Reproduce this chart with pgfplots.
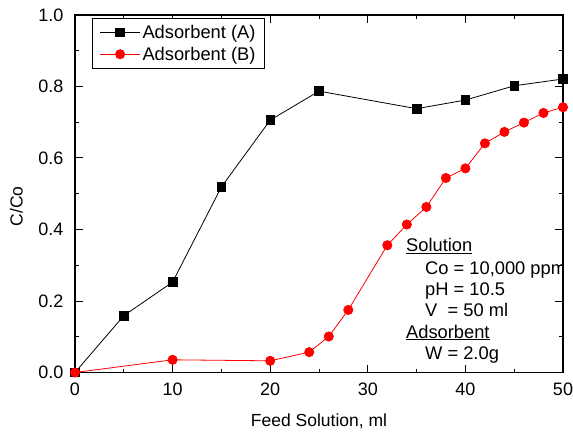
\documentclass[border=0pt]{standalone}
\usepackage{fontspec}
\setmainfont{Liberation Sans}
\usepackage{pgfplots}
\pgfplotsset{compat=1.18}
\begin{document}
\begin{tikzpicture}
\begin{axis}[
  scale only axis, width=488pt, height=357.5pt,
  xmin=0, xmax=50, ymin=0, ymax=1,
  xtick={0,10,...,50}, minor x tick num=1,
  ytick={0,0.2,...,1.0}, minor y tick num=1,
  tick align=inside,
  major tick length=8pt, minor tick length=4pt,
  axis line style={line width=1.1pt},
  tick style={line width=1pt, black},
  /pgf/number format/assume math mode=true,
  tick label style={font=\fontsize{18}{20}\selectfont},
  xticklabel style={anchor=base, inner sep=0pt, yshift=-22.7pt},
  yticklabel style={anchor=east, inner sep=0pt, xshift=-11.5pt,
    /pgf/number format/fixed, /pgf/number format/fixed zerofill, /pgf/number format/precision=1},
  xlabel={Feed Solution, ml},
  xlabel style={font=\fontsize{17.5}{20}\selectfont, at={(rel axis cs:0.5,0)}, anchor=base, inner sep=0pt, yshift=-53.5pt},
  ylabel={C/Co},
  ylabel style={font=\fontsize{17.5}{20}\selectfont, at={(rel axis cs:0,0.465)}, anchor=south, inner sep=0pt, yshift=52pt},
  legend style={at={(rel axis cs:0.0355,0.991)}, anchor=north west, draw=black, line width=0.8pt,
    font=\fontsize{18.3}{20}\selectfont, inner xsep=7pt, inner ysep=4.5pt, row sep=3pt,
    cells={anchor=west}},
  legend image code/.code={\draw[mark repeat=2,mark phase=2] plot coordinates {(0pt,0pt) (20pt,0pt) (40pt,0pt)};},
]
\addplot[black, line width=0.8pt, mark=square*, mark size=4.3pt, mark options={solid}] coordinates {
  (0,0) (5,0.159) (10,0.253) (15,0.519) (20,0.706) (25,0.787) (35,0.738) (40,0.762) (45,0.802) (50,0.821)
};
\addlegendentry{Adsorbent (A)}
\addplot[red, line width=0.8pt, mark=*, mark size=4.6pt, mark options={solid}] coordinates {
  (0,0) (10,0.0355) (20,0.0327) (24,0.057) (26,0.1007) (28,0.175) (32,0.356) (34,0.414) (36,0.463) (38,0.544) (40,0.571) (42,0.641) (44,0.673) (46,0.699) (48,0.726) (50,0.742)
};
\addlegendentry{Adsorbent (B)}
\node[anchor=base west, inner sep=0pt, font=\fontsize{18.3}{20}\selectfont] at (axis cs:33.91,0.3385) {\underline{Solution}};
\node[anchor=base west, inner sep=0pt, font=\fontsize{18.3}{20}\selectfont] at (axis cs:35.86,0.2752) {Co = 10,000 ppm};
\node[anchor=base west, inner sep=0pt, font=\fontsize{18.3}{20}\selectfont] at (axis cs:35.86,0.2145) {pH = 10.5};
\node[anchor=base west, inner sep=0pt, font=\fontsize{18.3}{20}\selectfont] at (axis cs:35.86,0.1566) {V\ \ = 50 ml};
\node[anchor=base west, inner sep=0pt, font=\fontsize{18.3}{20}\selectfont] at (axis cs:33.91,0.0962) {\underline{Adsorbent}};
\node[anchor=base west, inner sep=0pt, font=\fontsize{18.3}{20}\selectfont] at (axis cs:35.86,0.0355) {W = 2.0g};
\coordinate (SW) at (rel axis cs:0,0);
\coordinate (NE) at (rel axis cs:1,1);
\end{axis}
\pgfresetboundingbox
\path (SW) ++(-75pt,-59pt) rectangle ([shift={(10pt,15pt)}]NE);
\end{tikzpicture}
\end{document}
